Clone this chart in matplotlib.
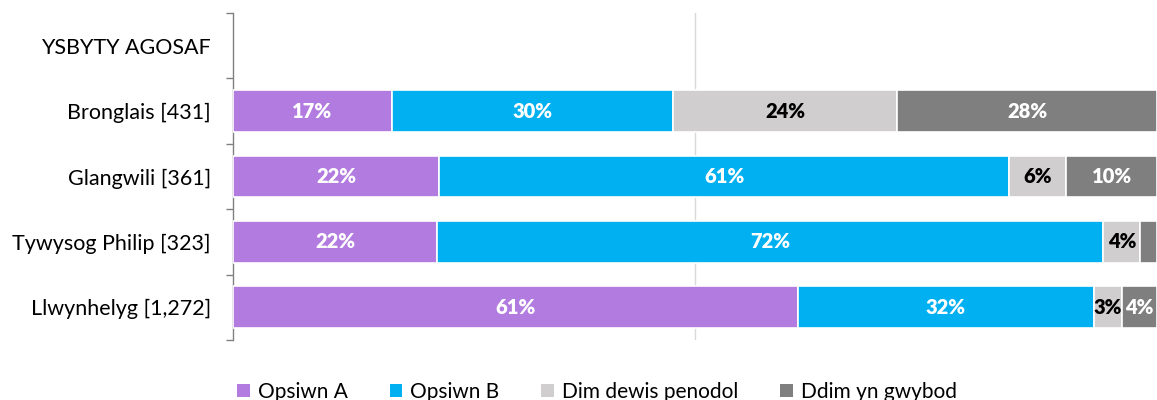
import matplotlib
matplotlib.use("Agg")
import matplotlib.pyplot as plt
from matplotlib.patches import Patch

plt.rcParams["font.family"] = ["Lato", "DejaVu Sans"]

categories = ["YSBYTY AGOSAF", "Bronglais [431]", "Glangwili [361]", "Tywysog Philip [323]", "Llwynhelyg [1,272]"]
series_names = ["Opsiwn A", "Opsiwn B", "Dim dewis penodol", "Ddim yn gwybod"]
opsiwn_a = [None, 17.2, 22.3, 22.1, 61.1]
opsiwn_b = [None, 30.4, 61.7, 72.1, 32.1]
dim_dewis = [None, 24.3, 6.2, 4.0, 3.0]
ddim_gwybod = [None, 28.1, 9.8, 1.8, 3.8]
labels_a = ["", "17%", "22%", "22%", "61%"]
labels_b = ["", "30%", "61%", "72%", "32%"]
labels_dim = ["", "24%", "6%", "4%", "3%"]
labels_ddim = ["", "28%", "10%", "", "4%"]

colors = ["#B27BE0", "#00B0F0", "#D0CECE", "#7F7F7F"]
text_colors = ["white", "white", "black", "white"]

fig = plt.figure(figsize=(11.57, 4.0), dpi=100)
ax = fig.add_axes([233 / 1157, 60 / 400, 924 / 1157, 327 / 400])

ys = list(range(len(categories)))
series = [opsiwn_a, opsiwn_b, dim_dewis, ddim_gwybod]
labels = [labels_a, labels_b, labels_dim, labels_ddim]
left = [0.0] * len(categories)
for vals, labs, col, tcol in zip(series, labels, colors, text_colors):
    for i, v in enumerate(vals):
        if v is None:
            continue
        ax.barh(i, v, left=left[i], height=0.64, color=col, edgecolor="white", linewidth=1.2, zorder=3)
        if labs[i]:
            ax.text(left[i] + v / 2, i, labs[i], ha="center", va="center", color=tcol,
                    fontsize=14.5, fontweight="heavy", zorder=4)
        left[i] += v

ax.set_xlim(0, 100)
ax.set_ylim(len(categories) - 0.5, -0.5)
ax.axvline(50, color="#D9D9D9", linewidth=1, zorder=1)

ax.set_yticks(ys)
ax.set_yticklabels(categories, fontsize=15.5)
ax.set_yticks([y - 0.5 for y in range(len(categories) + 1)], minor=True)
ax.tick_params(axis="y", which="major", length=0, pad=16)
ax.tick_params(axis="y", which="minor", length=5, color="#808080", width=1)
ax.set_xticks([])
for s in ["top", "right", "bottom"]:
    ax.spines[s].set_visible(False)
ax.spines["left"].set_color("#808080")
ax.spines["left"].set_linewidth(1)

handles = [Patch(facecolor=c, edgecolor="none") for c in colors]
fig.legend(handles, series_names, loc="center", bbox_to_anchor=(0.516, 0.02), ncol=4, frameon=False,
           fontsize=15, handlelength=0.6, handleheight=0.6, handletextpad=0.4, columnspacing=2.0)

fig.savefig("out.png", dpi=100)
